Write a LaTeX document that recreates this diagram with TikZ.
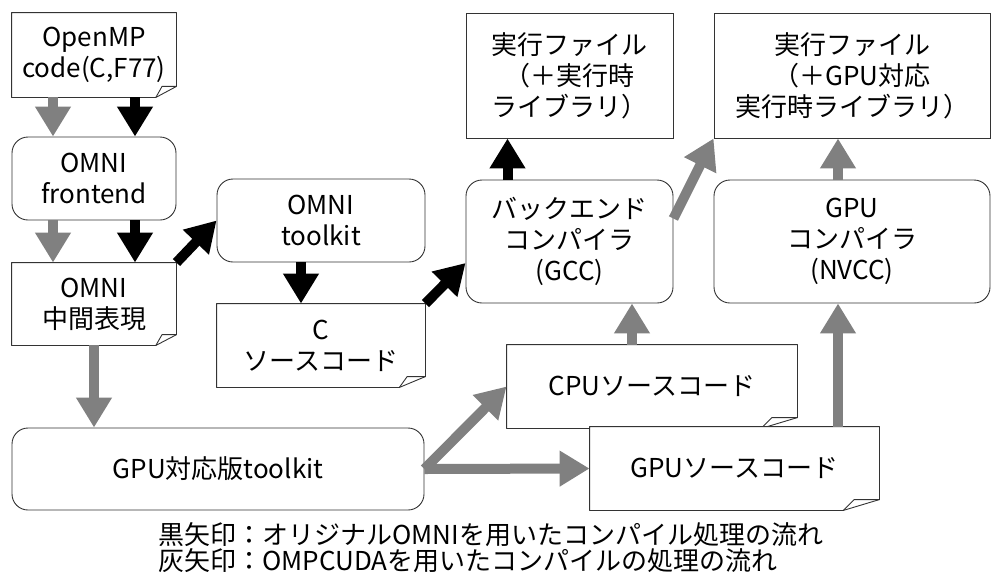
\documentclass[tikz,border=0pt]{standalone}
\usepackage{fontspec}
\setmainfont{Noto Sans CJK JP}
\usetikzlibrary{arrows.meta,calc}

\begin{document}
\begin{tikzpicture}[x=1pt,y=-1pt]
 \tikzstyle{box} = [draw=black!80,line width=0.9pt,align=center,inner sep=0,font=\fontsize{26}{31}\selectfont]
 \tikzstyle{proc} = [box,rounded corners=16pt]
 \tikzstyle{docnode} = [box,draw=none]
 \tikzstyle{docline} = [draw=black!80,line width=0.9pt,line join=round]
 \tikzstyle{blk} = [-{Triangle[width=34pt,length=30pt]},line width=10pt,black]
 \tikzstyle{gry} = [blk,gray]
 \newcommand{\docframe}[1]{
  \coordinate (#1b) at ($(#1.south east)!0.125!(#1.south west)$);
  \coordinate (#1r) at ($(#1.south east)!0.13!(#1.north east)$);
  \draw[docline] (#1.north west) -- (#1.north east) -- (#1r) -- (#1b) -- (#1.south west) -- cycle;
  \draw[docline] (#1b) -- ($(#1b |- #1r)!0.3!(#1r)$) -- (#1r);
 }

 \useasboundingbox (0,0) rectangle (992,576);

% Left column
 \node[docnode,minimum width=164pt,minimum height=84pt] (omp) at (94,55) {OpenMP\\code(C,F77)};
 \node[proc,minimum width=164pt,minimum height=83pt] (fe) at (94,178.5) {OMNI\\frontend};
 \node[docnode,minimum width=164pt,minimum height=82pt] (ir) at (94,304) {OMNI\\中間表現};
 \node[proc,minimum width=412pt,minimum height=82pt] (gtk) at (218,469) {GPU対応版toolkit};
 \docframe{omp}
 \docframe{ir}

% OMNI toolkit path
 \node[proc,minimum width=208pt,minimum height=83pt] (tk) at (321,220.5) {OMNI\\toolkit};
 \node[docnode,minimum width=208pt,minimum height=83pt] (csrc) at (321,345.5) {C\\ソースコード};
 \docframe{csrc}

% Compilers and executables
 \node[box,minimum width=207pt,minimum height=125pt] (exe) at (569.5,75.5) {実行ファイル\\（＋実行時\\ライブラリ）};
 \node[proc,minimum width=207pt,minimum height=123pt] (gcc) at (569.5,241.5) {バックエンド\\コンパイラ\\(GCC)};
 \node[box,minimum width=276pt,minimum height=125pt] (gexe) at (852,75.5) {実行ファイル\\（＋GPU対応\\実行時ライブラリ）};
 \node[proc,minimum width=276pt,minimum height=123pt] (nvcc) at (852,241.5) {GPU\\コンパイラ\\(NVCC)};

% Generated sources
 \node[docnode,minimum width=290pt,minimum height=83pt] (cpu) at (652,386.5) {CPUソースコード};
 \docframe{cpu}
 \node[docnode,fill=white,minimum width=289pt,minimum height=83pt] (gpu) at (734.5,468.5) {GPUソースコード};
 \docframe{gpu}

% Legend
 \node[anchor=west,align=left,inner sep=0,font=\fontsize{26}{26}\selectfont] (legend) at (158,548)
  {黒矢印：オリジナルOMNIを用いたコンパイル処理の流れ\\灰矢印：OMPCUDAを用いたコンパイルの処理の流れ};

% Arrows
 \draw[gry] ([xshift=-41pt]omp.south) -- ([xshift=-41pt]fe.north);
 \draw[blk] ([xshift=41pt]omp.south) -- ([xshift=41pt]fe.north);
 \draw[gry] ([xshift=-41pt]fe.south) -- ([xshift=-41pt]ir.north);
 \draw[blk] ([xshift=41pt]fe.south) -- ([xshift=41pt]ir.north);
 \draw[blk] (ir.north east) -- (tk.west);
 \draw[gry] (ir.south) -- (ir.south |- gtk.north);
 \draw[blk] ([xshift=-20pt]tk.south) -- ([xshift=-20pt]csrc.north);
 \draw[blk] (csrc.north east) -- ([yshift=-21.5pt]gcc.west);
 \draw[blk] ([xshift=-62pt]gcc.north) -- ([xshift=-62pt]exe.south);
 \draw[gry] ([yshift=23pt]gcc.east) -- (gexe.south west);
 \draw[gry] ([xshift=-14pt]nvcc.north) -- ([xshift=-14pt]gexe.south);
 \draw[gry] (gtk.east) -- (cpu.west);
 \draw[gry] (gtk.east) -- (gpu.west);
 \draw[gry] ([xshift=-20pt]cpu.north) -- ([xshift=62.5pt]gcc.south);
 \draw[gry] ([xshift=103.5pt]gpu.north) -- ([xshift=-14pt]nvcc.south);
\end{tikzpicture}
\end{document}
